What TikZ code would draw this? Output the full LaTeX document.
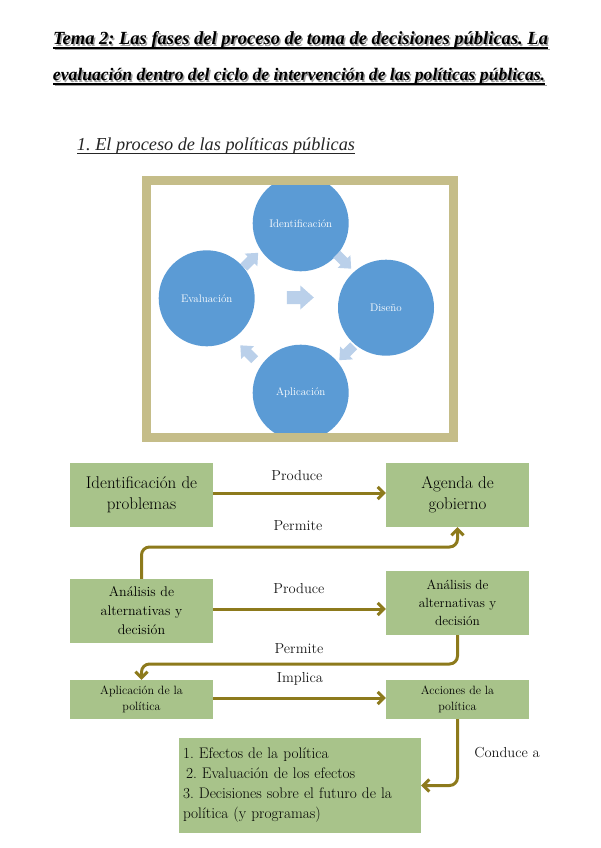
\documentclass[tikz,border=0pt]{standalone}
\usepackage{fontspec}
\usepackage{graphicx}
\newfontfamily\titlefont{Liberation Serif}
\usetikzlibrary{arrows.meta}
\definecolor{circblue}{HTML}{5B9BD5}
\definecolor{arrfill}{HTML}{BAD0EA}
\definecolor{framec}{HTML}{C5BD89}
\definecolor{boxg}{HTML}{A8C38A}
\definecolor{connc}{HTML}{8D7A1C}
\definecolor{shadowc}{HTML}{A0A0A0}
\frenchspacing
\newcommand\titleone{Tema 2: Las fases del proceso de toma de decisiones públicas. La}
\newcommand\titletwo{evaluación dentro del ciclo de intervención de las políticas públicas.}
\newcommand\blockarr[4]{\fill[arrfill, shift={(#1,#2)}, rotate=#3, scale=#4] (-13.5,-6.5) -- (0,-6.5) -- (0,-12) -- (13.5,0) -- (0,12) -- (0,6.5) -- (-13.5,6.5) -- cycle;}
\begin{document}
\begin{tikzpicture}[x=1pt,y=-1pt,
  ttl/.style={anchor=base, inner sep=0},
  circ/.style={circle, fill=circblue, minimum size=96pt, inner sep=0, text=white, font=\fontsize{11}{13}\selectfont},
  box/.style={fill=boxg, inner sep=2pt, minimum width=143pt, align=center, text=black},
  lab/.style={font=\fontsize{14.5}{16}\selectfont, inner sep=0, text=black!90},
  conn/.style={draw=connc, line width=3pt, rounded corners=8pt, -{Straight Barb[length=6pt,width=12pt]}}]
\fill[white] (0,0) rectangle (600,848);
\useasboundingbox (0,0) rectangle (600,848);
% title with shadow
\node[ttl, text=shadowc] (t1s) at (302,46.5) {\resizebox{495pt}{!}{\titlefont\bfseries\itshape\fontsize{17}{20}\selectfont \titleone}};
\node[ttl] (t1) at (300.5,45) {\resizebox{495pt}{!}{\titlefont\bfseries\itshape\fontsize{17}{20}\selectfont \titleone}};
\draw[shadowc, line width=1.3pt] (54.5,49.5) -- (549.5,49.5);
\draw[black, line width=1.3pt] (53,48) -- (548,48);
\node[ttl, text=shadowc] (t2s) at (300.5,82.5) {\resizebox{492pt}{!}{\titlefont\bfseries\itshape\fontsize{17}{20}\selectfont \titletwo}};
\node[ttl] (t2) at (299,81) {\resizebox{492pt}{!}{\titlefont\bfseries\itshape\fontsize{17}{20}\selectfont \titletwo}};
\draw[shadowc, line width=1.3pt] (54.5,85.5) -- (546.5,85.5);
\draw[black, line width=1.3pt] (53,84) -- (545,84);
% subheading
\node[ttl, text=black!85] (sub) at (216,150) {\resizebox{278pt}{!}{\titlefont\itshape\fontsize{16}{18}\selectfont 1. El proceso de las políticas públicas}};
\draw[black!85, line width=0.8pt] (77,153) -- (355,153);
% cycle diagram
\begin{scope}
\clip (151,185) rectangle (449,433);
\node[circ] (ident) at (300.7,223.3) {Identificación};
\node[circ] (dise) at (386,307.7) {Diseño};
\node[circ] (eval) at (206.7,298.3) {Evaluación};
\node[circ] (apli) at (300.7,392.7) {Aplicación};
\end{scope}
\blockarr{300.3}{297.5}{0}{1}
\blockarr{251}{260}{45}{0.75}
\blockarr{344}{261.5}{-45}{0.75}
\blockarr{346.5}{353}{-135}{0.75}
\blockarr{247.5}{352.5}{135}{0.75}
\draw[framec, line width=9pt] (146.5,180.5) rectangle (453.5,437);
% flowchart boxes
\node[box, minimum height=64pt, font=\fontsize{17}{21}\selectfont] (b1) at (141.5,495) {Identificación de\\problemas};
\node[box, minimum height=64pt, font=\fontsize{17}{21}\selectfont] (b2) at (457.5,495) {Agenda de\\gobierno};
\node[box, minimum height=64pt, font=\fontsize{14}{19}\selectfont] (b3) at (141.5,611) {Análisis de\\alternativas y\\decisión};
\node[box, minimum height=64pt, font=\fontsize{13.3}{18}\selectfont] (b4) at (457.5,603) {Análisis de\\alternativas y\\decisión};
\node[box, minimum height=39pt, font=\fontsize{12}{15.5}\selectfont] (b5) at (141.5,699.5) {Aplicación de la\\política};
\node[box, minimum height=39pt, font=\fontsize{12}{15.5}\selectfont] (b6) at (457.5,699.5) {Acciones de la\\política};
\node[box, minimum height=95pt, text width=234pt, inner xsep=4pt, align=left, font=\fontsize{15.3}{20}\selectfont] (b7) at (300,785.5) {1. Efectos de la política\\\hspace*{3pt}2. Evaluación de los efectos\\3. Decisiones sobre el futuro de la\\política (y programas)};
% connectors
\coordinate (p1) at (300,547);
\coordinate (p2) at (300,664);
\draw[conn] ([yshift=2pt]b1.east) -- ([yshift=2pt]b1.east -| b2.west);
\draw[conn] (b3.north) |- (p1) -| (b2.south);
\draw[conn] ([yshift=2pt]b3.east) -- ([yshift=2pt]b3.east -| b4.west);
\draw[conn] (b4.south) |- (p2) -| (b5.north);
\draw[conn] ([yshift=1.5pt]b5.east) -- ([yshift=1.5pt]b5.east -| b6.west);
\draw[conn] (b6.south) |- (b7.east);
% labels
\node[lab] (l1) at (297,476) {Produce};
\node[lab] (l2) at (298,526) {Permite};
\node[lab] (l3) at (299,589) {Produce};
\node[lab] (l4) at (299,649) {Permite};
\node[lab] (l5) at (300,679) {Implica};
\node[lab] (l6) at (507,753) {Conduce a};
\end{tikzpicture}
\end{document}
